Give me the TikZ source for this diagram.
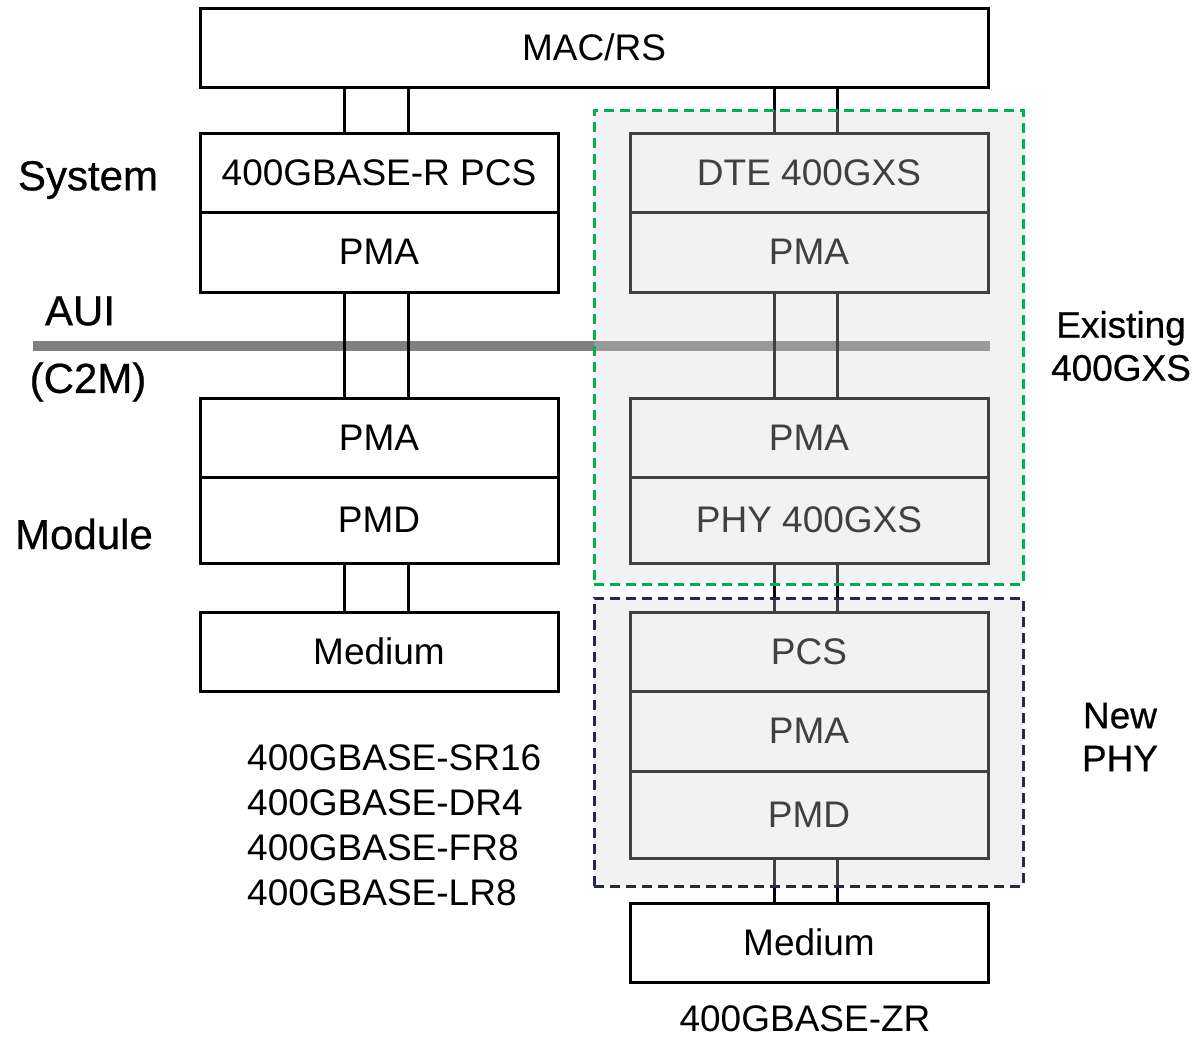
\documentclass[tikz,border=0pt]{standalone}
\usepackage{fontspec}
\setmainfont{Liberation Sans}
\newfontfamily\labelfont[FakeBold=0.6]{Liberation Sans}
\definecolor{dgreen}{RGB}{0,176,80}
\definecolor{navy}{RGB}{38,42,74}
\definecolor{veil}{RGB}{213,213,213}
\definecolor{auigray}{RGB}{128,128,128}
\tikzset{
  layer/.style={draw=black, line width=3pt, fill=white, inner sep=0pt,
    minimum width=358pt, font=\fontsize{37}{44}\selectfont},
  link/.style={draw=black, line width=3pt},
  group/.style={line width=3pt, dash pattern=on 10pt off 6pt, fill=veil,
    fill opacity=0.3, inner sep=0pt, minimum width=429pt},
  side/.style={font=\labelfont\fontsize{42}{50}\selectfont, inner sep=0pt},
  groupname/.style={font=\labelfont\fontsize{37}{43}\selectfont, inner sep=0pt, align=center},
  note/.style={font=\fontsize{37}{44}\selectfont, inner sep=0pt, align=center},
}
\begin{document}
\begin{tikzpicture}[x=1pt,y=-1pt]
\useasboundingbox (0,0) rectangle (1199,1039);
% top
\node[layer, minimum width=788pt, minimum height=79pt] (mac) at (594,47.5) {MAC/RS};
% left column
\node[layer, minimum height=79pt] (pcsL) at (379,172.5) {400GBASE-R PCS};
\node[layer, minimum height=80pt] (pmaLa) at (379,252) {PMA};
\node[layer, minimum height=79pt] (pmaLb) at (379,437.5) {PMA};
\node[layer, minimum height=86pt] (pmdL) at (379,520) {PMD};
\node[layer, minimum height=79pt] (medL) at (379,651.5) {Medium};
% right column
\node[layer, minimum height=79pt] (dte) at (809,172.5) {DTE 400GXS};
\node[layer, minimum height=80pt] (pmaRa) at (809,252) {PMA};
\node[layer, minimum height=79pt] (pmaRb) at (809,437.5) {PMA};
\node[layer, minimum height=86pt] (phy) at (809,520) {PHY 400GXS};
\node[layer, minimum height=79pt] (pcsR) at (809,651.5) {PCS};
\node[layer, minimum height=80pt] (pmaRc) at (809,731) {PMA};
\node[layer, minimum height=87pt] (pmdR) at (809,814.5) {PMD};
\node[layer, minimum height=79pt] (medR) at (809,942.5) {Medium};
% AUI line
\coordinate (auiS) at (33,346);
\draw[line width=10pt, auigray] (auiS) -- (auiS -| dte.east);
% connectors
\coordinate (cla) at (344,0);
\coordinate (clb) at (408,0);
\coordinate (cra) at (774,0);
\coordinate (crb) at (837,0);
\foreach \c in {cla,clb}{
  \draw[link] (mac.south -| \c) -- (pcsL.north -| \c);
  \draw[link] (pmaLa.south -| \c) -- (pmaLb.north -| \c);
  \draw[link] (pmdL.south -| \c) -- (medL.north -| \c);
}
\foreach \c in {cra,crb}{
  \draw[link] (mac.south -| \c) -- (dte.north -| \c);
  \draw[link] (pmaRa.south -| \c) -- (pmaRb.north -| \c);
  \draw[link] (phy.south -| \c) -- (pcsR.north -| \c);
  \draw[link] (pmdR.south -| \c) -- (medR.north -| \c);
}
% groups
\node[group, draw=dgreen, minimum height=474pt] (exist) at (808.5,347) {};
\node[group, draw=navy, minimum height=288pt] (newphy) at (808.5,742) {};
% labels
\node[side] (sys) at (88,180) {System};
\node[side] (aui) at (80,311) {AUI};
\node[side] (c2m) at (88,382) {(C2M)};
\node[side] (mod) at (84,534) {Module};
\node[groupname] (exl) at (1121,346) {Existing\\400GXS};
\node[groupname] (newl) at (1120,737) {New\\PHY};
\node[note, align=left, anchor=west, font=\fontsize{37}{45}\selectfont] (std) at (247,825)
  {400GBASE-SR16\\400GBASE-DR4\\400GBASE-FR8\\400GBASE-LR8};
\node[note] (zr) at (805,1019) {400GBASE-ZR};
\end{tikzpicture}
\end{document}
